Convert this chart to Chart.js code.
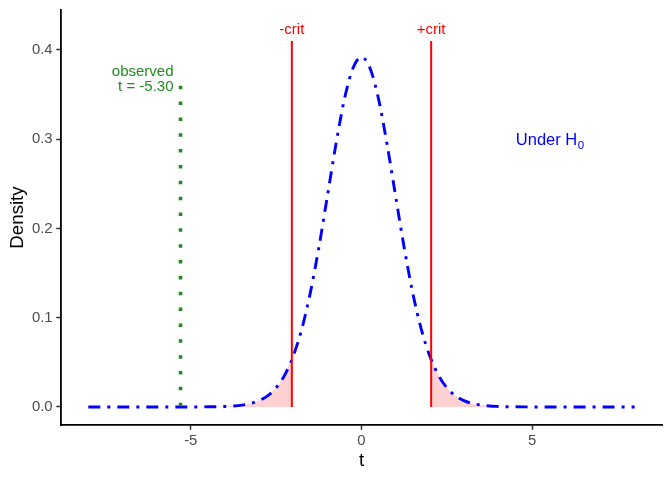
<!DOCTYPE html>
<html>
<head>
<meta charset="utf-8">
<script src="https://cdn.jsdelivr.net/npm/chart.js@4/dist/chart.umd.min.js"></script>
<style>
  html, body { margin: 0; padding: 0; background: #ffffff; }
  #wrap { width: 672px; height: 480px; }
</style>
</head>
<body>
<div id="wrap"><canvas id="c" width="672" height="480"></canvas></div>
<script>
// ---- data ----
const tGrid = [
  -8, -7.75, -7.5, -7.25, -7, -6.75, -6.5, -6.25, -6, -5.75, -5.5, -5.25,
  -5, -4.75, -4.5, -4.25, -4, -3.75, -3.5, -3.25, -3, -2.75, -2.5, -2.25,
  -2, -1.75, -1.5, -1.25, -1, -0.75, -0.5, -0.25, 0,
  0.25, 0.5, 0.75, 1, 1.25, 1.5, 1.75, 2, 2.25, 2.5, 2.75, 3, 3.25, 3.5, 3.75,
  4, 4.25, 4.5, 4.75, 5, 5.25, 5.5, 5.75, 6, 6.25, 6.5, 6.75, 7, 7.25, 7.5, 7.75, 8
];
const density = [
  0, 0, 0, 0, 0, 0, 0, 0, 0, 0, 0, 0,
  0.0000, 0.0001, 0.0002, 0.0003, 0.0006, 0.0011, 0.0021, 0.0039, 0.0071, 0.0125, 0.0215, 0.0357,
  0.0570, 0.0872, 0.1278, 0.1785, 0.2360, 0.2940, 0.3450, 0.3795, 0.3920,
  0.3795, 0.3450, 0.2940, 0.2360, 0.1785, 0.1278, 0.0872, 0.0570, 0.0357, 0.0215, 0.0125, 0.0071, 0.0039, 0.0021, 0.0011,
  0.0006, 0.0003, 0.0002, 0.0001, 0.0000, 0, 0, 0, 0, 0, 0, 0, 0, 0, 0, 0, 0
];
const critValue = 2.04;
const densityAtCrit = 0.055;
const critLineTop = 0.41;
const observedT = -5.30;
const observedTop = 0.36;
const xTicks = [-5, 0, 5];
const yTicks = [0, 0.1, 0.2, 0.3, 0.4];

// ---- build series ----
const curvePts = tGrid.map((t, i) => ({ x: t, y: density[i] }));
const leftTail = tGrid.map((t, i) => ({ x: t, y: density[i] })).filter(p => p.x < -critValue);
leftTail.push({ x: -critValue, y: densityAtCrit });
const rightTail = [{ x: critValue, y: densityAtCrit }].concat(
  tGrid.map((t, i) => ({ x: t, y: density[i] })).filter(p => p.x > critValue));

const FONT = '"Liberation Sans", Arial, Helvetica, sans-serif';
const RED = '#FF0000', BLUE = '#0000FF', GREEN = '#228B22';

const annot = {
  id: 'annot',
  afterDatasetsDraw(chart) {
    const { ctx, scales: { x, y } } = chart;
    ctx.save();
    ctx.font = '15px ' + FONT;
    ctx.textBaseline = 'alphabetic';
    // crit labels
    ctx.fillStyle = RED;
    ctx.textAlign = 'center';
    ctx.fillText('-crit', x.getPixelForValue(-critValue), y.getPixelForValue(0.418));
    ctx.fillText('+crit', x.getPixelForValue(critValue), y.getPixelForValue(0.418));
    // observed label
    ctx.fillStyle = GREEN;
    ctx.textAlign = 'right';
    const ox = x.getPixelForValue(observedT) - 7;
    ctx.fillText('observed', ox, y.getPixelForValue(0.371));
    ctx.fillText('t = ' + observedT.toFixed(2), ox, y.getPixelForValue(0.354));
    // Under H0
    ctx.fillStyle = BLUE;
    ctx.textAlign = 'left';
    ctx.font = '16.5px ' + FONT;
    const ux = x.getPixelForValue(4.52), uy = y.getPixelForValue(0.2936);
    const main = 'Under H';
    ctx.fillText(main, ux, uy);
    const w = ctx.measureText(main).width;
    ctx.font = '11.5px ' + FONT;
    ctx.fillText('0', ux + w + 0.5, uy + 4);
    ctx.restore();
  }
};

new Chart(document.getElementById('c'), {
  type: 'line',
  data: {
    datasets: [
      { data: leftTail, borderWidth: 0, pointRadius: 0, fill: 'origin',
        backgroundColor: 'rgba(255,0,0,0.18)', cubicInterpolationMode: 'monotone', order: 5 },
      { data: rightTail, borderWidth: 0, pointRadius: 0, fill: 'origin',
        backgroundColor: 'rgba(255,0,0,0.18)', cubicInterpolationMode: 'monotone', order: 5 },
      { data: curvePts, borderColor: BLUE, borderWidth: 2.9, borderDash: [12, 7, 3, 7],
        borderCapStyle: 'butt', pointRadius: 0, fill: false, cubicInterpolationMode: 'monotone', order: 3 },
      { data: [{ x: -critValue, y: 0 }, { x: -critValue, y: critLineTop }], borderColor: RED,
        borderWidth: 2, pointRadius: 0, fill: false, order: 2 },
      { data: [{ x: critValue, y: 0 }, { x: critValue, y: critLineTop }], borderColor: RED,
        borderWidth: 2, pointRadius: 0, fill: false, order: 2 },
      { data: [{ x: observedT, y: observedTop }, { x: observedT, y: 0 }], borderColor: GREEN,
        borderWidth: 3.6, borderDash: [3.5, 12.35], borderCapStyle: 'butt', pointRadius: 0, fill: false, order: 1 }
    ]
  },
  options: {
    responsive: false,
    animation: false,
    devicePixelRatio: 1,
    layout: { padding: { top: 10, right: 10, left: 0, bottom: 0 } },
    plugins: { legend: { display: false }, tooltip: { enabled: false } },
    scales: {
      x: {
        type: 'linear', min: -8.8, max: 8.8,
        afterBuildTicks: s => { s.ticks = xTicks.map(v => ({ value: v })); },
        afterFit: s => { s.height = 55; s.paddingLeft = 0; s.paddingRight = 0; },
        ticks: { color: '#4D4D4D', font: { family: FONT, size: 14.9 }, padding: 2, maxRotation: 0,
          callback: v => String(v) },
        grid: { drawOnChartArea: false, drawTicks: true, tickLength: 4.7, tickColor: '#333333', tickWidth: 1.5 },
        border: { display: true, color: '#000000', width: 1.8 },
        title: { display: true, text: 't', color: '#000000', font: { family: FONT, size: 18.7 },
          padding: { top: 0, bottom: 7.8 } }
      },
      y: {
        type: 'linear', min: -0.0202, max: 0.4448,
        afterBuildTicks: s => { s.ticks = yTicks.map(v => ({ value: v })); },
        afterFit: s => { s.width = 61; s.paddingTop = 0; s.paddingBottom = 0; },
        ticks: { color: '#4D4D4D', font: { family: FONT, size: 14.9 }, padding: 3.7,
          callback: v => Number(v).toFixed(1) },
        grid: { drawOnChartArea: false, drawTicks: true, tickLength: 4.7, tickColor: '#333333', tickWidth: 1.5 },
        border: { display: true, color: '#000000', width: 1.8 },
        title: { display: true, text: 'Density', color: '#000000', font: { family: FONT, size: 18.7 },
          padding: { top: 6.3, bottom: 0 } }
      }
    }
  },
  plugins: [annot]
});
</script>
</body>
</html>
